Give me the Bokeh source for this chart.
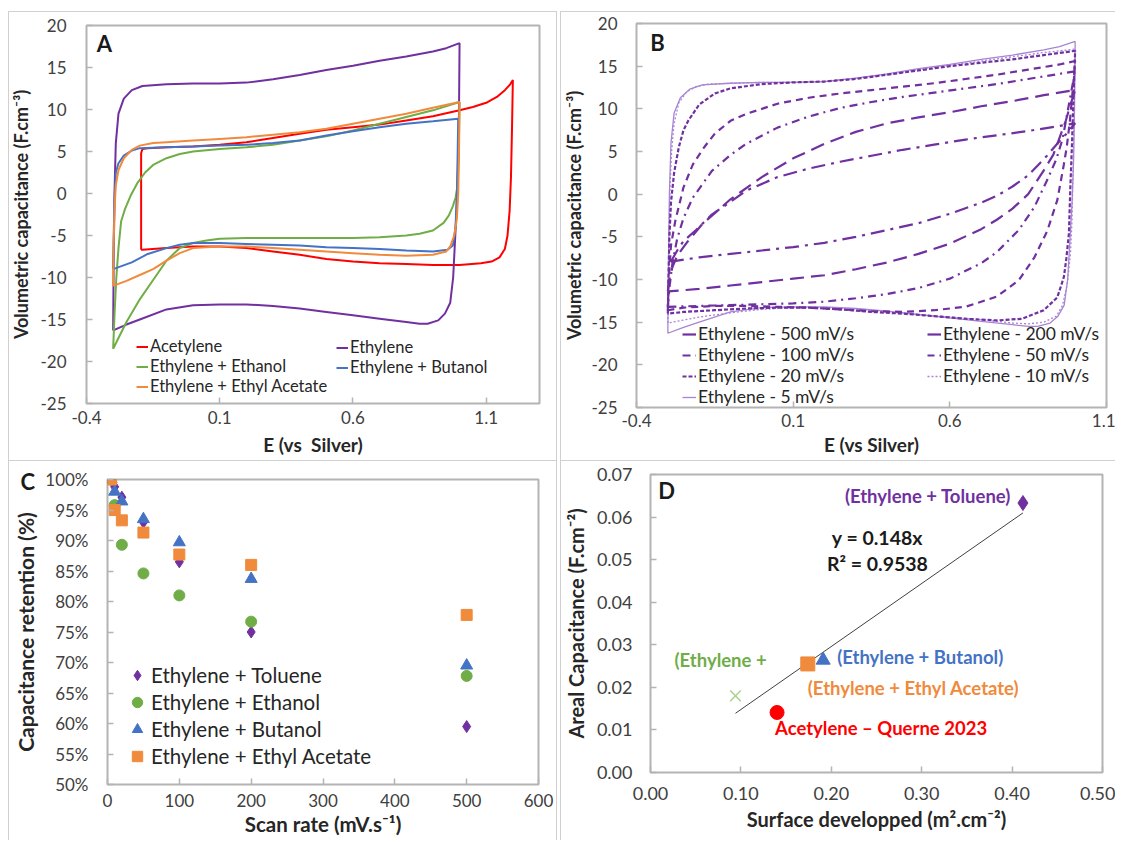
from bokeh.plotting import figure
from bokeh.models import (Range1d, FixedTicker, Legend, LegendItem, Label, Title,
                          PrintfTickFormatter, NumeralTickFormatter)
from bokeh.layouts import column, row
from bokeh.embed import file_html
from bokeh.resources import INLINE

# ======================= DATA =======================
# ---- Panel A : CV curves (E vs Silver, volumetric capacitance F.cm-3) ----
acet_E = [-0.195, -0.195, -0.19, -0.17, -0.10, 0.00, 0.10, 0.20, 0.30, 0.40, 0.50, 0.60, 0.70,
          0.80, 0.90, 1.00, 1.05, 1.10, 1.14, 1.17, 1.19, 1.20,
          1.197, 1.193, 1.188, 1.18, 1.17, 1.15, 1.12, 1.08, 1.00, 0.90, 0.80, 0.70, 0.60,
          0.50, 0.40, 0.30, 0.20, 0.10, 0.00, -0.10, -0.19, -0.195]
acet_C = [-6.7, 4.8, 5.3, 5.4, 5.5, 5.6, 5.8, 6.1, 6.6, 7.1, 7.6, 7.9, 8.2,
          8.7, 9.2, 9.9, 10.3, 10.8, 11.5, 12.3, 13.0, 13.5,
          8.0, 2.0, -2.0, -5.0, -6.6, -7.6, -8.1, -8.3, -8.5, -8.5, -8.4, -8.3, -8.1,
          -7.8, -7.3, -6.9, -6.5, -6.3, -6.3, -6.5, -6.7, -6.7]

eth_E = [-0.300, -0.298, -0.295, -0.29, -0.28, -0.26, -0.23, -0.19, -0.10, 0.00, 0.10, 0.20,
         0.30, 0.40, 0.50, 0.60, 0.70, 0.80, 0.90, 0.95, 1.00,
         0.998, 0.995, 0.99, 0.984, 0.976, 0.965, 0.945, 0.92, 0.88, 0.85, 0.80, 0.70, 0.60,
         0.50, 0.40, 0.30, 0.20, 0.10, 0.00, -0.10, -0.20, -0.25, -0.30]
eth_C = [-16.3, -8.0, 0.0, 6.0, 9.5, 11.3, 12.3, 12.8, 13.0, 13.1, 13.1, 13.2,
         13.6, 14.1, 14.7, 15.2, 15.8, 16.3, 16.9, 17.3, 17.9,
         10.0, 4.0, -1.0, -5.0, -10.0, -13.0, -14.3, -15.1, -15.5, -15.5, -15.3, -14.9, -14.5,
         -14.1, -13.7, -13.4, -13.2, -13.2, -13.3, -13.8, -15.0, -15.6, -16.3]

etoh_E = [-0.300, -0.295, -0.288, -0.28, -0.27, -0.255, -0.235, -0.21, -0.18, -0.15, -0.10,
          -0.05, 0.00, 0.10, 0.20, 0.30, 0.40, 0.50, 0.60, 0.70, 0.80, 0.90, 1.00,
          0.997, 0.993, 0.985, 0.975, 0.96, 0.94, 0.90, 0.85, 0.80, 0.70, 0.60, 0.50, 0.40,
          0.30, 0.20, 0.10, 0.05, 0.00, -0.05, -0.10, -0.15, -0.20, -0.25, -0.28, -0.30]
etoh_C = [-18.5, -14.5, -10.0, -6.5, -3.3, -1.8, -0.3, 1.2, 2.5, 3.4, 4.2,
          4.7, 5.0, 5.3, 5.5, 5.8, 6.3, 6.8, 7.5, 8.3, 9.1, 9.9, 10.9,
          5.0, 1.0, -0.5, -1.5, -2.6, -3.5, -4.4, -4.8, -5.0, -5.2, -5.3, -5.3, -5.3,
          -5.3, -5.3, -5.4, -5.6, -5.9, -6.5, -8.0, -10.3, -12.6, -15.3, -17.2, -18.5]

buoh_E = [-0.300, -0.298, -0.295, -0.29, -0.28, -0.26, -0.23, -0.20, -0.10, 0.00, 0.10, 0.20,
          0.30, 0.40, 0.50, 0.60, 0.70, 0.80, 0.90, 0.995,
          0.993, 0.99, 0.985, 0.975, 0.955, 0.90, 0.80, 0.70, 0.60, 0.50, 0.40, 0.30, 0.20,
          0.10, 0.00, -0.05, -0.10, -0.17, -0.23, -0.30]
buoh_C = [-9.0, -5.0, -1.0, 2.5, 3.6, 4.5, 5.1, 5.4, 5.5, 5.6, 5.7, 5.8,
          6.0, 6.3, 6.9, 7.4, 7.9, 8.3, 8.6, 8.9,
          5.0, 0.0, -4.0, -6.2, -6.7, -6.9, -6.8, -6.6, -6.5, -6.4, -6.2, -6.1, -6.0,
          -5.9, -5.9, -6.1, -6.5, -7.2, -8.2, -9.0]

etac_E = [-0.300, -0.298, -0.295, -0.29, -0.28, -0.26, -0.23, -0.20, -0.15, -0.10, 0.00, 0.10,
          0.20, 0.30, 0.40, 0.50, 0.60, 0.70, 0.80, 0.90, 1.00,
          0.998, 0.995, 0.99, 0.98, 0.965, 0.95, 0.90, 0.80, 0.70, 0.60, 0.50, 0.40, 0.30,
          0.20, 0.10, 0.00, -0.05, -0.10, -0.15, -0.20, -0.25, -0.30]
etac_C = [-11.0, -6.0, -2.0, 1.0, 2.8, 4.2, 5.2, 5.7, 6.0, 6.1, 6.3, 6.5,
          6.7, 7.0, 7.3, 7.7, 8.3, 8.9, 9.5, 10.2, 10.9,
          5.0, 0.0, -3.0, -5.0, -6.3, -6.9, -7.3, -7.4, -7.3, -7.1, -6.9, -6.7, -6.5,
          -6.3, -6.3, -6.5, -7.1, -8.0, -9.0, -9.7, -10.4, -11.0]

# ---- Panel B : Ethylene CVs at several scan rates (5 mV/s = eth_E / eth_C) ----
r500_E = [-0.29, -0.27, -0.25, -0.21, -0.16, -0.10, -0.05, 0.05, 0.15, 0.25, 0.35, 0.45, 0.55,
          0.65, 0.75, 0.85, 0.95, 1.00,
          0.97, 0.94, 0.91, 0.85, 0.80, 0.75, 0.70, 0.60, 0.50, 0.40, 0.30, 0.20, 0.10, 0.00,
          -0.10, -0.20, -0.29]
r500_C = [-7.9, -6.6, -5.5, -4.2, -2.4, -0.9, 0.4, 2.0, 3.0, 3.8, 4.5, 5.2, 5.8,
          6.4, 6.9, 7.4, 8.0, 8.3,
          7.0, 5.8, 4.5, 2.2, 0.9, -0.2, -1.0, -2.3, -3.4, -4.2, -5.0, -5.7, -6.2, -6.6,
          -7.0, -7.4, -7.9]

r200_E = [-0.30, -0.295, -0.285, -0.27, -0.24, -0.19, -0.10, 0.00, 0.10, 0.20, 0.30, 0.40, 0.50,
          0.60, 0.70, 0.80, 0.90, 1.00,
          0.985, 0.97, 0.95, 0.93, 0.90, 0.85, 0.80, 0.75, 0.70, 0.60, 0.50, 0.40, 0.30, 0.20,
          0.10, 0.00, -0.10, -0.20, -0.30]
r200_C = [-11.4, -10.0, -8.5, -7.2, -5.7, -3.5, -0.6, 2.0, 4.2, 5.9, 7.3, 8.3, 9.0,
          9.6, 10.3, 10.9, 11.6, 12.2,
          10.5, 8.6, 6.6, 4.6, 2.8, 0.0, -1.7, -3.0, -4.1, -5.8, -7.0, -8.0, -8.8, -9.5,
          -9.9, -10.3, -10.7, -11.1, -11.4]

r100_E = [-0.30, -0.295, -0.285, -0.27, -0.25, -0.22, -0.16, -0.10, -0.05, 0.05, 0.15, 0.25, 0.35,
          0.45, 0.55, 0.65, 0.75, 0.85, 0.95, 1.00,
          0.99, 0.975, 0.96, 0.94, 0.91, 0.87, 0.82, 0.75, 0.70, 0.60, 0.50, 0.40, 0.30, 0.20,
          0.10, 0.00, -0.10, -0.20, -0.30]
r100_C = [-13.2, -11.0, -8.0, -5.2, -2.8, -0.4, 2.7, 4.6, 5.9, 7.8, 9.1, 10.1, 10.8,
          11.4, 11.9, 12.4, 12.9, 13.5, 14.1, 14.4,
          12.5, 9.5, 6.5, 4.1, 1.6, -1.5, -4.2, -6.8, -8.1, -9.9, -11.0, -11.7, -12.2, -12.6,
          -12.8, -12.9, -13.0, -13.1, -13.2]

r50_E = [-0.30, -0.297, -0.29, -0.276, -0.25, -0.22, -0.184, -0.15, -0.10, -0.05, 0.05, 0.15,
         0.25, 0.35, 0.45, 0.55, 0.65, 0.75, 0.85, 0.95, 1.00,
         0.993, 0.983, 0.973, 0.964, 0.943, 0.911, 0.87, 0.82, 0.75, 0.65, 0.55, 0.45, 0.35,
         0.25, 0.15, 0.05, -0.05, -0.15, -0.25, -0.30]
r50_C = [-13.6, -10.0, -6.0, -3.1, 0.8, 3.5, 5.5, 7.1, 8.6, 9.4, 10.6, 11.3,
         11.8, 12.2, 12.6, 13.0, 13.5, 14.0, 14.6, 15.2, 15.6,
         12.5, 8.5, 5.5, 3.5, -0.7, -4.3, -7.4, -10.1, -12.0, -13.2, -13.6, -13.8, -13.7,
         -13.5, -13.3, -13.2, -13.1, -13.1, -13.3, -13.6]

r20_E = [-0.30, -0.298, -0.295, -0.29, -0.28, -0.265, -0.25, -0.235, -0.20, -0.15, -0.10, 0.00,
         0.10, 0.20, 0.30, 0.40, 0.50, 0.60, 0.70, 0.80, 0.90, 1.00,
         0.995, 0.99, 0.985, 0.98, 0.972, 0.964, 0.943, 0.90, 0.83, 0.75, 0.65, 0.55, 0.45,
         0.35, 0.25, 0.15, 0.05, -0.05, -0.15, -0.25, -0.30]
r20_C = [-14.0, -10.0, -5.0, -1.0, 2.5, 5.5, 7.5, 8.6, 10.5, 11.8, 12.4, 12.9,
         13.1, 13.2, 13.5, 14.0, 14.5, 15.0, 15.4, 15.8, 16.3, 16.8,
         12.0, 6.0, 1.2, -4.6, -7.5, -9.7, -12.1, -13.6, -14.6, -14.8, -14.6, -14.3, -14.0,
         -13.8, -13.5, -13.3, -13.3, -13.4, -13.6, -13.8, -14.0]

r10_E = [-0.30, -0.298, -0.296, -0.293, -0.288, -0.28, -0.265, -0.24, -0.21, -0.17, -0.10, 0.00,
         0.10, 0.20, 0.30, 0.40, 0.50, 0.60, 0.70, 0.80, 0.90, 1.00,
         0.997, 0.993, 0.99, 0.985, 0.975, 0.96, 0.94, 0.90, 0.85, 0.80, 0.70, 0.60, 0.50,
         0.40, 0.30, 0.20, 0.10, 0.00, -0.10, -0.20, -0.30]
r10_C = [-15.1, -10.0, -4.0, 1.0, 5.0, 8.3, 10.7, 12.0, 12.6, 12.9, 13.0, 13.1,
         13.1, 13.2, 13.6, 14.0, 14.6, 15.1, 15.6, 16.1, 16.6, 17.0,
         10.0, 2.0, -3.0, -7.0, -10.5, -13.0, -14.3, -15.0, -15.2, -15.1, -14.7, -14.4, -14.1,
         -13.8, -13.5, -13.3, -13.3, -13.5, -13.9, -14.4, -15.1]

# ---- Panel C : capacitance retention vs scan rate ----
scan_rate = [5, 10, 20, 50, 100, 200, 500]
ret_toluene = [100.0, 98.8, 97.1, 93.0, 86.5, 75.0, 59.5]
ret_ethanol = [100.0, 95.8, 89.3, 84.6, 81.0, 76.7, 67.8]
ret_butanol = [100.0, 98.0, 96.4, 93.5, 89.7, 83.7, 69.5]
ret_ethylacetate = [100.0, 95.0, 93.3, 91.3, 87.7, 86.0, 77.8]

# ---- Panel D : areal capacitance vs developed surface ----
d_names = ["Ethylene + Toluene", "Ethylene + Ethanol", "Ethylene + Butanol",
           "Ethylene + Ethyl Acetate", "Acetylene – Querne 2023"]
d_labels = ["(Ethylene + Toluene)", "(Ethylene +", "(Ethylene + Butanol)",
            "(Ethylene + Ethyl Acetate)", "Acetylene – Querne 2023"]
d_x = [0.412, 0.094, 0.191, 0.174, 0.140]
d_y = [0.0633, 0.0180, 0.0264, 0.0255, 0.0141]
trend_slope = 0.148
trend_r2 = 0.9538

# tick values
e_ticks = [-0.4, 0.1, 0.6, 1.1]
c_ticks = list(range(-25, 21, 5))
rate_ticks = list(range(0, 601, 100))
ret_ticks = list(range(50, 101, 5))
surf_ticks = [0.0, 0.1, 0.2, 0.3, 0.4, 0.5]
areal_ticks = [0.0, 0.01, 0.02, 0.03, 0.04, 0.05, 0.06, 0.07]

# ======================= STYLE =======================
FONT = "Lato"
PURPLE = "#7030A0"
RED = "#FF0000"
GREEN = "#70AD47"
BLUE = "#4472C4"
ORANGE = "#F08A3C"
LIGHT_PURPLE = "#A785D3"
TICK_COL = "#404040"
TITLE_COL = "#262626"
FRAME_COL = "#B4B4B4"
SEP_COL = "#D0D0D0"


def sep_styles(rects):
    """CSS background lines drawn behind a transparent canvas (chart-area borders)."""
    g = "linear-gradient(%s, %s)" % (SEP_COL, SEP_COL)
    return {
        "background-color": "white",
        "background-image": ", ".join([g] * len(rects)),
        "background-size": ", ".join("%dpx %dpx" % (r[2], r[3]) for r in rects),
        "background-position": ", ".join("%dpx %dpx" % (r[0], r[1]) for r in rects),
        "background-repeat": "no-repeat",
    }


def make_fig(w, h, xr, yr, mb, seps):
    p = figure(width=w, height=h, x_range=Range1d(*xr), y_range=Range1d(*yr),
               output_backend="svg", toolbar_location=None, frame_align=False,
               min_border_left=mb[0], min_border_right=mb[1],
               min_border_top=mb[2], min_border_bottom=mb[3],
               styles=sep_styles(seps))
    p.xgrid.visible = False
    p.ygrid.visible = False
    p.outline_line_color = FRAME_COL
    p.outline_line_width = 2
    p.background_fill_color = "white"
    p.border_fill_color = None
    return p


def style_axis(ax, ticks, label, lab_size, std, lab_std, tick_size, hyphen=False):
    ax.ticker = FixedTicker(ticks=ticks)
    if hyphen:
        ax.major_label_overrides = {t: ("%g" % t) for t in ticks}
    ax.axis_label = label
    ax.axis_line_color = None
    ax.major_tick_in = 6
    ax.major_tick_out = 0
    ax.major_tick_line_color = FRAME_COL
    ax.major_tick_line_width = 1.5
    ax.minor_tick_line_color = None
    ax.major_label_text_font = FONT
    ax.major_label_text_font_size = tick_size
    ax.major_label_text_color = TICK_COL
    ax.major_label_standoff = std
    ax.axis_label_standoff = lab_std
    ax.axis_label_text_font = FONT
    ax.axis_label_text_font_style = "bold"
    ax.axis_label_text_font_size = lab_size
    ax.axis_label_text_color = TITLE_COL


def legend(items, loc, gw, gh, fs, standoff, spacing=0):
    return Legend(items=items, location=loc, glyph_width=gw, glyph_height=gh,
                  label_height=gh, spacing=spacing, label_standoff=standoff,
                  padding=0, margin=0, border_line_color=None,
                  background_fill_alpha=0, label_text_font=FONT,
                  label_text_font_size=fs, label_text_color=TITLE_COL)


def letter(p, txt, x, y):
    p.add_layout(Label(x=x, y=y, x_units="screen", y_units="screen", text=txt,
                       text_align="center", text_baseline="middle",
                       text_font=FONT, text_font_style="bold",
                       text_font_size="22px", text_color="#1A1A1A"))


# ---------------- Panel A ----------------
pA = make_fig(560, 460, (-0.4, 1.3), (-25, 20), (86, 21, 25, 57),
              [(8, 11, 1, 449), (8, 11, 549, 1), (556, 11, 1, 449)])
style_axis(pA.xaxis[0], e_ticks, "E (vs\u00a0 Silver)", "19px", 7, 6, "17px", True)
style_axis(pA.yaxis[0], c_ticks, "Volumetric capacitance (F.cm\u207b\u00b3)",
           "18px", 20, 5, "17px", True)
lw = 2
a1 = pA.line(acet_E, acet_C, line_color=RED, line_width=lw)
a2 = pA.line(eth_E, eth_C, line_color=PURPLE, line_width=lw)
a3 = pA.line(etoh_E, etoh_C, line_color=GREEN, line_width=lw)
a4 = pA.line(buoh_E, buoh_C, line_color=BLUE, line_width=lw)
a5 = pA.line(etac_E, etac_C, line_color=ORANGE, line_width=lw)
pA.add_layout(legend([LegendItem(label="Acetylene", renderers=[a1]),
                      LegendItem(label="Ethylene + Ethanol", renderers=[a3]),
                      LegendItem(label="Ethylene + Ethyl Acetate", renderers=[a5])],
                     (50, 7), 12, 19, "16.5px", 2))
pA.add_layout(legend([LegendItem(label="Ethylene", renderers=[a2]),
                      LegendItem(label="Ethylene + Butanol", renderers=[a4])],
                     (250, 26), 12, 19, "16.5px", 2))
letter(pA, "A", 18, 360)

# ---------------- Panel B ----------------
pB = make_fig(555, 460, (-0.4, 1.1), (-25, 20), (70, 9, 23, 53),
              [(0, 11, 1, 449), (0, 11, 555, 1)])
style_axis(pB.xaxis[0], e_ticks, "E (vs Silver)", "19px", 6, 3, "17px", True)
style_axis(pB.yaxis[0], c_ticks, "Volumetric capacitance (F.cm\u207b\u00b3)",
           "18px", 19, 3, "17px", True)
b5 = pB.line(eth_E, eth_C, line_color=LIGHT_PURPLE, line_width=1.3)
b10 = pB.line(r10_E, r10_C, line_color=LIGHT_PURPLE, line_width=1.3, line_dash="2 2")
b20 = pB.line(r20_E, r20_C, line_color=PURPLE, line_width=2.2, line_dash="4 2")
b50 = pB.line(r50_E, r50_C, line_color=PURPLE, line_width=2.2, line_dash="7 5")
b100 = pB.line(r100_E, r100_C, line_color=PURPLE, line_width=2.2, line_dash="8 5 2 5")
b200 = pB.line(r200_E, r200_C, line_color=PURPLE, line_width=2.2, line_dash="14 7")
b500 = pB.line(r500_E, r500_C, line_color=PURPLE, line_width=2.2, line_dash="14 6 3 6")
pB.add_layout(legend([LegendItem(label="Ethylene - 500 mV/s", renderers=[b500]),
                      LegendItem(label="Ethylene - 100 mV/s", renderers=[b100]),
                      LegendItem(label="Ethylene - 20 mV/s", renderers=[b20]),
                      LegendItem(label="Ethylene - 5 mV/s", renderers=[b5])],
                     (46, 0), 14, 20, "17.5px", 2, 0))
pB.add_layout(legend([LegendItem(label="Ethylene - 200 mV/s", renderers=[b200]),
                      LegendItem(label="Ethylene - 50 mV/s", renderers=[b50]),
                      LegendItem(label="Ethylene - 10 mV/s", renderers=[b10])],
                     (291, 21), 14, 20, "17.5px", 2, 0))
letter(pB, "B", 21, 365)

# ---------------- Panel C ----------------
pC = make_fig(560, 380, (0, 600), (50, 100), (107, 22, 19, 56),
              [(8, 0, 549, 1), (8, 0, 1, 380), (556, 0, 1, 380)])
style_axis(pC.xaxis[0], rate_ticks, "Scan rate (mV.s\u207b\u00b9)", "20.5px", 9, 2, "17px")
style_axis(pC.yaxis[0], ret_ticks, "Capacitance retention (%)", "21px", 19, 4, "17px")
pC.yaxis[0].formatter = PrintfTickFormatter(format="%d%%")
c1 = pC.scatter(scan_rate, ret_toluene, marker="diamond", size=12, color=PURPLE)
c2 = pC.scatter(scan_rate, ret_ethanol, marker="circle", size=11, color=GREEN)
c3 = pC.scatter(scan_rate, ret_butanol, marker="triangle", size=12, color=BLUE)
c4 = pC.scatter(scan_rate, ret_ethylacetate, marker="square", size=11, color=ORANGE)
pC.add_layout(legend([LegendItem(label="Ethylene + Toluene", renderers=[c1]),
                      LegendItem(label="Ethylene + Ethanol", renderers=[c2]),
                      LegendItem(label="Ethylene + Butanol", renderers=[c3]),
                      LegendItem(label="Ethylene + Ethyl Acetate", renderers=[c4])],
                     (16, 15), 28, 26, "20.5px", 0, 1))
# panel letter C sits outside the frame: use a title in the top border
pC.add_layout(Title(text="C", align="left", offset=-87, standoff=-30,
                    text_font=FONT, text_font_style="bold", text_font_size="22px",
                    text_color="#1A1A1A"), "above")

# ---------------- Panel D ----------------
pD = make_fig(555, 380, (0, 0.5), (0, 0.07), (90, 13, 14, 68),
              [(0, 0, 555, 1), (0, 0, 1, 380)])
style_axis(pD.xaxis[0], surf_ticks, "Surface developped (m\u00b2.cm\u207b\u00b2)",
           "20px", 14, 4, "18px")
style_axis(pD.yaxis[0], areal_ticks, "Areal Capacitance (F.cm\u207b\u00b2)", "20px", 18, 6, "18px")
pD.xaxis[0].formatter = NumeralTickFormatter(format="0.00")
pD.yaxis[0].formatter = NumeralTickFormatter(format="0.00")

trend_x = [min(d_x), max(d_x)]
trend_y = [trend_slope * v for v in trend_x]
pD.line(trend_x, trend_y, line_color="#404040", line_width=1)

d_colors = [PURPLE, "#A9D18E", BLUE, ORANGE, RED]
d_markers = ["diamond", "x", "triangle", "square", "circle"]
d_sizes = [15, 15, 14, 14, 14]
for i in range(len(d_x)):
    if d_markers[i] == "x":
        pD.scatter([d_x[i]], [d_y[i]], marker="x", size=d_sizes[i], line_color=d_colors[i],
                   line_width=1.5)
    else:
        pD.scatter([d_x[i]], [d_y[i]], marker=d_markers[i], size=d_sizes[i], color=d_colors[i])

label_cols = [PURPLE, GREEN, BLUE, ORANGE, RED]
label_offsets = [(-12, 7, "right"), (-61, 36, "left"), (14, 3, "left"),
                 (0, -24, "left"), (-2, -16, "left")]
for i in range(len(d_x)):
    dx, dy, al = label_offsets[i]
    pD.add_layout(Label(x=d_x[i], y=d_y[i], x_offset=dx, y_offset=dy, text=d_labels[i],
                        text_align=al, text_baseline="middle", text_color=label_cols[i],
                        text_font=FONT, text_font_style="bold", text_font_size="18.5px"))

pD.add_layout(Label(x=0.251, y=0.0553, text="y = %.3fx" % trend_slope, text_align="center",
                    text_baseline="middle", text_color="#1A1A1A", text_font=FONT,
                    text_font_style="bold", text_font_size="19.5px"))
pD.add_layout(Label(x=0.251, y=0.0491, text="R\u00b2 = %.4f" % trend_r2, text_align="center",
                    text_baseline="middle", text_color="#1A1A1A", text_font=FONT,
                    text_font_style="bold", text_font_size="19.5px"))
letter(pD, "D", 16, 282)

layout = column(row(pA, pB), row(pC, pD))
open("out.html", "w").write(file_html(layout, INLINE))
